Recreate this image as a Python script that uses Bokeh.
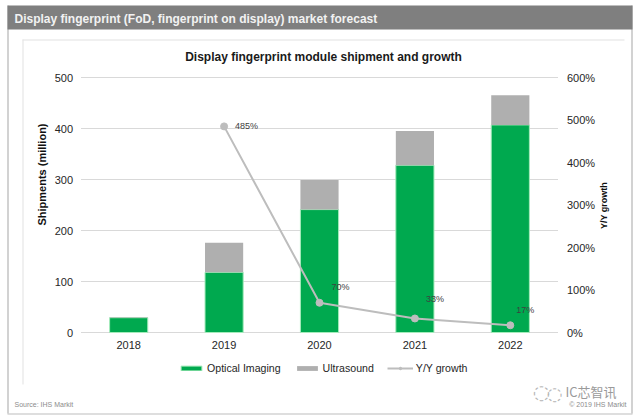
import math
from bokeh.plotting import figure
from bokeh.embed import file_html
from bokeh.resources import INLINE
from bokeh.core.properties import value
from bokeh.models import (ColumnDataSource, FactorRange, Range1d, LinearAxis, Label,
                          BoxAnnotation, Legend, LegendItem, FixedTicker, CustomJSTickFormatter)

years = ["2018", "2019", "2020", "2021", "2022"]
optical = [29, 118, 241, 328, 407]
ultrasound = [1, 58, 58, 67, 58]
growth_years = ["2019", "2020", "2021", "2022"]
growth = [485, 70, 33, 17]
growth_labels = ["485%", "70%", "33%", "17%"]
label_dx = [11, 12, 11, 6]
label_dy = [0, -16, -19, -15]
y_ticks = [0, 100, 200, 300, 400, 500]
growth_ticks = [0, 100, 200, 300, 400, 500, 600]

FONT = "Liberation Sans"
GREEN = "#00a94f"
GREY = "#afafaf"
LINE = "#bdbdbd"
W, H = 638, 419
ZERO = 332
PX_PER_UNIT = 255 / 500
y_low = -(H - ZERO) / PX_PER_UNIT
y_high = ZERO / PX_PER_UNIT

p = figure(width=W, height=H, x_range=FactorRange(factors=years, range_padding=0.3375),
           y_range=Range1d(y_low, y_high), output_backend="svg", toolbar_location=None,
           min_border_left=0, min_border_right=0, min_border_top=0, min_border_bottom=0,
           background_fill_color="white", border_fill_color="white", outline_line_color=None)
p.extra_y_ranges = {"growth": Range1d(y_low * 1.2, y_high * 1.2)}


def box(left, right, top, bottom, color):
    p.add_layout(BoxAnnotation(left=left, right=right, top=H - top, bottom=H - bottom,
                               left_units="screen", right_units="screen",
                               top_units="screen", bottom_units="screen",
                               fill_color=color, fill_alpha=1, line_color=None, level="underlay"))


def text(x, y, s, size, color, style="normal", align="left", angle=0, font=FONT):
    p.add_layout(Label(x=x, y=H - y, x_units="screen", y_units="screen", text=s, text_font=font,
                       text_font_size=f"{size}px", text_color=color, text_font_style=style,
                       text_align=align, text_baseline="middle", angle=angle))


# frame decoration
box(7, 8, 5, 413, "#a6a6a6")
box(631, 632, 5, 413, "#a6a6a6")
box(7, 632, 413, 414, "#bdbdbd")
box(7, 632, 5, 29, "#7f7f7f")
box(22, 624, 39, 40, "#e2e2e2")
box(22, 23, 39, 384, "#e2e2e2")

# horizontal guide lines spanning only the category band
p.xgrid.visible = False
p.ygrid.visible = False
p.segment(x0=[0] * len(y_ticks), x1=[5] * len(y_ticks), y0=y_ticks, y1=y_ticks, line_color="#d9d9d9", line_width=1)

bars_a = p.vbar(x=years, top=optical, bottom=0, width=0.4, fill_color=GREEN, line_color="#a5ebbb", line_width=1)
bars_b = p.vbar(x=years, top=[a + b for a, b in zip(optical, ultrasound)], bottom=optical, width=0.4,
                fill_color=GREY, line_color=None)

line = p.line(growth_years, growth, y_range_name="growth", line_color=LINE, line_width=2)
dots = p.scatter(growth_years, growth, y_range_name="growth", size=7, fill_color=LINE, line_color=LINE)

src = ColumnDataSource(dict(x=growth_years, y=growth, t=growth_labels, dx=label_dx, dy=label_dy))
p.text(x="x", y="y", text="t", source=src, y_range_name="growth", x_offset="dx", y_offset="dy",
       text_font=value(FONT), text_font_size="9px", text_color="#404040", text_baseline="middle")

# axes
p.yaxis.fixed_location = 0
p.yaxis.ticker = FixedTicker(ticks=y_ticks)
p.yaxis.axis_line_color = None
p.yaxis.major_tick_line_color = None
p.yaxis.major_tick_out = 0
p.yaxis.major_tick_in = 0
p.yaxis.minor_tick_line_color = None
p.yaxis.major_label_standoff = 8
p.yaxis.major_label_text_font = FONT
p.yaxis.major_label_text_font_size = "11px"
p.yaxis.major_label_text_color = "#262626"

p.xaxis.fixed_location = 0
p.xaxis.axis_line_color = None
p.xaxis.major_tick_line_color = None
p.xaxis.major_tick_out = 0
p.xaxis.major_tick_in = 0
p.xaxis.minor_tick_line_color = None
p.xaxis.major_label_standoff = 8
p.xaxis.major_label_text_font = FONT
p.xaxis.major_label_text_font_size = "11px"
p.xaxis.major_label_text_color = "#262626"

right = LinearAxis(y_range_name="growth", ticker=FixedTicker(ticks=growth_ticks), fixed_location=5,
                   formatter=CustomJSTickFormatter(code='return tick + "%"'),
                   axis_line_color=None, major_tick_line_color=None, minor_tick_line_color=None,
                   major_tick_out=0, major_tick_in=0,
                   major_label_standoff=9, major_label_text_font=FONT, major_label_text_font_size="11px",
                   major_label_text_color="#262626")
p.add_layout(right, "right")

# legend
legend = Legend(items=[LegendItem(label="Optical Imaging", renderers=[bars_a]),
                       LegendItem(label="Ultrasound", renderers=[bars_b]),
                       LegendItem(label="Y/Y growth", renderers=[line, dots])],
                orientation="horizontal", location=(178, 45), background_fill_alpha=0,
                border_line_color=None, glyph_width=26, glyph_height=6, label_height=12,
                label_standoff=3, spacing=13, margin=0, padding=0,
                label_text_font=FONT, label_text_font_size="10.6px", label_text_color="#262626")
p.add_layout(legend)

# texts
text(14, 18, "Display fingerprint (FoD, fingerprint on display) market forecast", 12, "#f2f2f2", "bold")
text(323, 56, "Display fingerprint module shipment and growth", 12, "#1a1a1a", "bold", "center")
text(41, 174, "Shipments (million)", 11, "#111111", "bold", "center", math.pi / 2)
text(603, 205, "Y/Y growth", 9, "#111111", "bold", "center", math.pi / 2)
text(14, 404, "Source: IHS Markit", 7, "#8c8c8c")
text(626, 404, "\u00a9 2019 IHS Markit", 7, "#8c8c8c", align="right")
text(565, 391, "IC芯智讯", 13, "#9a9a9a", font="Noto Sans CJK SC")
text(541, 391, "\u25cc", 20, "#b5b5b5", align="center", font="DejaVu Sans")
text(554, 393, "\u25cc", 18, "#b5b5b5", align="center", font="DejaVu Sans")

open("out.html", "w").write(file_html(p, INLINE))
